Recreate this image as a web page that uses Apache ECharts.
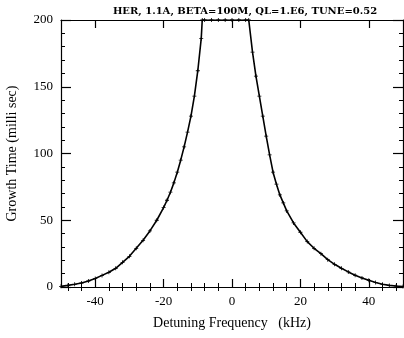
<!DOCTYPE html>
<html><head><meta charset="utf-8">
<script src="https://cdn.jsdelivr.net/npm/echarts@6/dist/echarts.min.js"></script>
<style>html,body{margin:0;padding:0;background:#fff}#c{width:404px;height:338px}</style>
</head><body><div id="c"></div>
<script>
const titleText = 'HER, 1.1A, BETA=100M, QL=1.E6, TUNE=0.52';
const xName = 'Detuning Frequency   (kHz)';
const yName = 'Growth Time (milli sec)';
const xMajorTicks = [-40, -20, 0, 20, 40];
const xMinorTicks = [-48,-44,-36,-32,-28,-24,-16,-12,-8,-4,4,8,12,16,24,28,32,36,44,48];
const yTickStep = 50;
// detuning frequency (kHz)
const freq = [-50,-48,-46,-44,-42,-40,-38,-36,-34,-32,-30,-28,-26,-24,-22,-20,-19,-18,-17,-16,-15,-14,-13,-12,-11,-10,-9,-8.7,
  -8,-6,-4,-2,0,2,4,
  4.9,6,7,8,9,10,11,12,13,14,15,16,18,20,22,24,26,28,30,32,34,36,38,40,42,44,46,48,50];
// growth time (ms), clipped at the 200 ms plot limit
const growth = [0.5,1.2,2,3,4.5,6.3,8.7,11,14,18.5,23,29,35,42,50,59.5,65,71,78,86,95,105,116,128,143,162,186,200,
  200,200,200,200,200,200,200,
  200,176,158,143,128,113,99,86,77,69,63,57,48,41,34,29,25,20.5,17,14,11.3,8.8,6.8,5,3.4,2,1.2,0.7,0.3];

const serif = 'Liberation Serif';
const chart = echarts.init(document.getElementById('c'), null, {renderer: 'canvas'});
const baseX = {
  type: 'value', min: -50, max: 50,
  axisLine: {show: true, onZero: false, lineStyle: {color: '#000', width: 1.2}},
  splitLine: {show: false}
};
const baseY = {
  type: 'value', min: 0, max: 200, interval: yTickStep,
  axisLine: {show: true, onZero: false, lineStyle: {color: '#000', width: 1.2}},
  axisTick: {show: true, inside: true, length: 10, lineStyle: {color: '#000', width: 1.2}},
  minorTick: {show: true, splitNumber: 5, length: 4, lineStyle: {color: '#000', width: 1}},
  splitLine: {show: false}
};
chart.setOption({
  animation: false,
  backgroundColor: '#fff',
  title: {
    text: titleText, left: 240, top: 1, textAlign: 'center',
    textStyle: {fontFamily: 'DejaVu Serif', fontSize: 10, fontWeight: 'bold', color: '#000'}
  },
  grid: {left: 61, top: 20, width: 342, height: 267, containLabel: false, outerBoundsMode: 'none'},
  xAxis: [
    Object.assign({}, baseX, {
      position: 'bottom',
      name: xName, nameLocation: 'middle', nameGap: 29,
      nameTextStyle: {fontFamily: serif, fontSize: 14, color: '#000'},
      axisTick: {show: true, inside: true, length: 8, customValues: xMajorTicks, lineStyle: {color: '#000', width: 1.2}},
      axisLabel: {show: true, customValues: xMajorTicks, margin: 8, fontFamily: serif, fontSize: 13, color: '#000'}
    }),
    Object.assign({}, baseX, {
      position: 'top',
      axisTick: {show: true, inside: true, length: 8, customValues: xMajorTicks, lineStyle: {color: '#000', width: 1.2}},
      axisLabel: {show: false}
    }),
    Object.assign({}, baseX, {
      position: 'bottom', axisLine: {show: false},
      axisTick: {show: true, inside: true, length: 4, customValues: xMinorTicks, lineStyle: {color: '#000', width: 1}},
      axisLabel: {show: false}
    }),
    Object.assign({}, baseX, {
      position: 'top', axisLine: {show: false},
      axisTick: {show: true, inside: true, length: 4, customValues: xMinorTicks, lineStyle: {color: '#000', width: 1}},
      axisLabel: {show: false}
    })
  ],
  yAxis: [
    Object.assign({}, baseY, {
      position: 'left',
      name: yName, nameLocation: 'middle', nameGap: 42,
      nameTextStyle: {fontFamily: serif, fontSize: 14, color: '#000'},
      axisLabel: {margin: 8, fontFamily: serif, fontSize: 13, color: '#000'}
    }),
    Object.assign({}, baseY, {
      position: 'right',
      axisLabel: {show: false}
    })
  ],
  series: [{
    type: 'line',
    xAxisIndex: 0, yAxisIndex: 0,
    data: freq.map((f, i) => [f, growth[i]]),
    symbol: 'path://M-1,-5H1V-1H5V1H1V5H-1V1H-5V-1H-1Z',
    symbolSize: 4,
    itemStyle: {color: '#000'},
    lineStyle: {color: '#000', width: 1.6},
    clip: true
  }]
});
</script></body></html>
